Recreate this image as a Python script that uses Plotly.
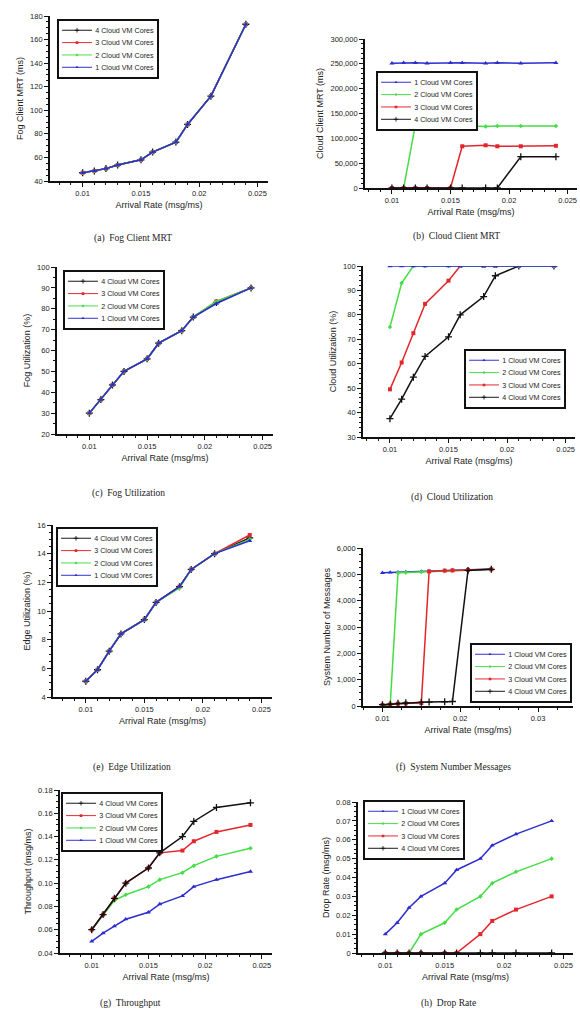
import json
import plotly.graph_objects as go

# ---------------- data ----------------
arrival_rate = [0.010, 0.011, 0.012, 0.013, 0.015, 0.016, 0.018, 0.019, 0.021, 0.024]
core_names = {1: "1 Cloud VM Cores", 2: "2 Cloud VM Cores", 3: "3 Cloud VM Cores", 4: "4 Cloud VM Cores"}

fog_mrt = {
    4: [47, 48.5, 50.5, 53.5, 58, 64.5, 73, 88, 112, 173],
    3: [47, 48.5, 50.5, 53.5, 58, 64.5, 73, 88, 112, 173],
    2: [47, 48.5, 50.5, 53.5, 58, 64.5, 73, 88, 112, 173],
    1: [47, 48.5, 50.5, 53.5, 58, 64.5, 73, 88, 112, 173],
}
cloud_mrt = {
    1: [251000, 252000, 252000, 251000, 252000, 252000, 251000, 252000, 251000, 252000],
    2: [0, 0, 127000, 127000, 127000, 126000, 124000, 125000, 125000, 125000],
    3: [0, 0, 0, 0, 0, 84000, 86000, 84000, 84000, 85000],
    4: [0, 0, 0, 0, 0, 0, 0, 0, 63000, 63000],
}
fog_util = {
    4: [30, 36.5, 43.5, 50, 56, 63.5, 69.5, 76, 83, 90],
    3: [30, 36.5, 43.5, 50, 56, 63.5, 69.5, 76, 83.5, 90],
    2: [30, 36.5, 43.5, 50, 56, 63.5, 69.5, 76, 83.5, 90],
    1: [30, 36.5, 43.5, 50, 56, 63.5, 69.5, 76, 82.5, 90],
}
cloud_util = {
    1: [100, 100, 100, 100, 100, 100, 100, 100, 100, 100],
    2: [75, 93, 100, 100, 100, 100, 100, 100, 100, 100],
    3: [49.5, 60.5, 72.5, 84.5, 94, 100, 100, 100, 100, 100],
    4: [37.5, 45.5, 54.5, 63, 71, 80, 87.5, 96, 100, 100],
}
edge_util = {
    4: [5.1, 5.9, 7.2, 8.4, 9.4, 10.6, 11.7, 12.9, 14.0, 15.1],
    3: [5.1, 5.9, 7.2, 8.4, 9.4, 10.6, 11.7, 12.9, 14.0, 15.3],
    2: [5.1, 5.9, 7.2, 8.4, 9.4, 10.6, 11.6, 12.9, 14.0, 15.0],
    1: [5.1, 5.9, 7.2, 8.4, 9.4, 10.6, 11.7, 12.9, 14.0, 14.9],
}
sys_messages = {
    1: [5060, 5070, 5080, 5090, 5110, 5130, 5150, 5160, 5180, 5200],
    2: [30, 40, 5060, 5070, 5090, 5110, 5130, 5140, 5160, 5180],
    3: [40, 60, 90, 100, 110, 5110, 5140, 5150, 5170, 5190],
    4: [50, 70, 100, 120, 140, 150, 160, 170, 5150, 5190],
}
throughput = {
    4: [0.060, 0.073, 0.087, 0.100, 0.113, 0.126, 0.140, 0.153, 0.165, 0.169],
    3: [0.060, 0.073, 0.087, 0.100, 0.113, 0.126, 0.128, 0.136, 0.144, 0.150],
    2: [0.060, 0.073, 0.085, 0.090, 0.097, 0.103, 0.109, 0.115, 0.123, 0.130],
    1: [0.050, 0.057, 0.063, 0.069, 0.075, 0.082, 0.089, 0.097, 0.103, 0.110],
}
drop_rate = {
    1: [0.010, 0.016, 0.024, 0.030, 0.037, 0.044, 0.050, 0.057, 0.063, 0.070],
    2: [0, 0, 0, 0.010, 0.016, 0.023, 0.030, 0.037, 0.043, 0.050],
    3: [0, 0, 0, 0, 0, 0, 0.010, 0.017, 0.023, 0.030],
    4: [0, 0, 0, 0, 0, 0, 0, 0, 0, 0],
}

# ---------------- styles ----------------
W, H = 580, 1015
STYLE = {
    1: dict(color="#2d2dcf", symbol="triangle-up", size=4.5, lw=0),
    2: dict(color="#44dd44", symbol="diamond", size=3.5, lw=0),
    3: dict(color="#e3262b", symbol="square", size=4, lw=0),
    4: dict(color="#111111", symbol="cross-thin-open", size=5, lw=1.3),
}
SANS = "Liberation Sans, Arial, sans-serif"
AX_FONT = dict(family=SANS, size=7.5, color="#222")
TITLE_FONT = dict(family=SANS, size=9, color="#222")
CAP_FONT = dict(family="Liberation Serif, DejaVu Serif, serif", size=9.5, color="#222")
LEG_SCALE = 0.65

panels = [
    dict(d=fog_mrt, yt="Fog Client MRT (ms)", yr=[40, 180], yd=20, ym=5, tf="",
         box=(50, 268, 16, 181), leg=(57, 19), draw=[4, 3, 2, 1], lorder=[4, 3, 2, 1],
         cap="(a)  Fog Client MRT", cx=133, cy=238, xr=[0.0072, 0.0259], xd=0.005, xm=0.001),
    dict(d=cloud_mrt, yt="Cloud Client MRT (ms)", yr=[0, 300000], yd=50000, ym=10000, tf=",",
         box=(365, 577, 39, 188), leg=(376, 71), draw=[1, 2, 3, 4], lorder=[1, 2, 3, 4],
         cap="(b)  Cloud Client MRT", cx=456, cy=237, xr=[0.0077, 0.0258], xd=0.005, xm=0.001),
    dict(d=fog_util, yt="Fog Utilization (%)", yr=[20, 100], yd=10, ym=5, tf="",
         box=(57, 273, 267, 434), leg=(63, 270), draw=[4, 3, 2, 1], lorder=[4, 3, 2, 1],
         cap="(c)  Fog Utilization", cx=128, cy=493, xr=[0.0072, 0.0259], xd=0.005, xm=0.001),
    dict(d=cloud_util, yt="Cloud Utilization (%)", yr=[30, 100], yd=10, ym=2, tf="",
         box=(363, 575, 266, 437), leg=(464, 349), draw=[4, 3, 2, 1], lorder=[1, 2, 3, 4],
         cap="(d)  Cloud Utilization", cx=452, cy=497, xr=[0.0077, 0.0258], xd=0.005, xm=0.001),
    dict(d=edge_util, yt="Edge Utilization (%)", yr=[4, 16], yd=2, ym=0.5, tf="",
         box=(53, 272, 525, 697), leg=(56, 527), draw=[4, 3, 2, 1], lorder=[4, 3, 2, 1],
         cap="(e)  Edge Utilization", cx=132, cy=767, xr=[0.0072, 0.0259], xd=0.005, xm=0.001),
    dict(d=sys_messages, yt="System Number of Messages", yr=[0, 6000], yd=1000, ym=250, tf=",",
         box=(363, 573, 548, 706), leg=(470, 643), draw=[1, 2, 3, 4], lorder=[1, 2, 3, 4],
         cap="(f)  System Number Messages", cx=453, cy=767, xr=[0.0075, 0.0345], xd=0.01, xm=0.0025),
    dict(d=throughput, yt="Throughput (msg/ms)", yr=[0.04, 0.18], yd=0.02, ym=0.005, tf=".2f",
         box=(60, 272, 790, 953), leg=(61, 792), draw=[1, 2, 3, 4], lorder=[4, 3, 2, 1],
         cap="(g)  Throughput", cx=130, cy=1003, xr=[0.0072, 0.0259], xd=0.005, xm=0.001),
    dict(d=drop_rate, yt="Drop Rate (msg/ms)", yr=[0, 0.08], yd=0.01, ym=0.0025, tf="",
         box=(358, 573, 802, 953), leg=(363, 800), draw=[1, 2, 3, 4], lorder=[1, 2, 3, 4],
         cap="(h)  Drop Rate", cx=448, cy=1003, xr=[0.0077, 0.0258], xd=0.005, xm=0.001),
]

fig = go.Figure()
layout = dict(width=W, height=H, margin=dict(l=0, r=0, t=0, b=0, autoexpand=False),
              paper_bgcolor="white", plot_bgcolor="white", showlegend=True)
annotations = []
legend_px = {}

for i, p in enumerate(panels):
    n = i + 1
    xa = "x" if n == 1 else f"x{n}"
    ya = "y" if n == 1 else f"y{n}"
    lg = "legend" if n == 1 else f"legend{n}"
    L, R, T, B = p["box"]
    for c in p["draw"]:
        s = STYLE[c]
        fig.add_trace(go.Scatter(
            x=arrival_rate, y=p["d"][c], mode="lines+markers", name=core_names[c],
            xaxis=xa, yaxis=ya, legend=lg, legendrank=p["lorder"].index(c) + 1,
            line=dict(color=s["color"], width=1.5),
            marker=dict(symbol=s["symbol"], size=s["size"], color=s["color"],
                        line=dict(width=s["lw"], color=s["color"])),
        ))
    common = dict(showline=True, linecolor="#111", linewidth=1.8, ticks="outside",
                  ticklen=4, tickwidth=1.3, tickcolor="#111", showgrid=False, zeroline=False,
                  tickfont=AX_FONT, mirror=False)
    layout["xaxis" if n == 1 else f"xaxis{n}"] = dict(
        common, domain=[L / W, R / W], anchor=ya, range=p["xr"], dtick=p["xd"], tick0=0,
        minor=dict(dtick=p["xm"], ticklen=2.5, tickwidth=1.1, tickcolor="#111", ticks="outside"),
        title=dict(text="Arrival Rate (msg/ms)", font=TITLE_FONT, standoff=5),
    )
    layout["yaxis" if n == 1 else f"yaxis{n}"] = dict(
        common, domain=[1 - B / H, 1 - T / H], anchor=xa, range=p["yr"], dtick=p["yd"],
        tick0=0, tickformat=p["tf"],
        minor=dict(dtick=p["ym"], ticklen=2.5, tickwidth=1.1, tickcolor="#111", ticks="outside"),
        title=dict(text=p["yt"], font=TITLE_FONT, standoff=5),
    )
    lx, ly = p["leg"]
    legend_px[lg] = [lx, ly]
    layout[lg] = dict(x=lx / W, y=1 - ly / H, xanchor="left", yanchor="top",
                      xref="paper", yref="paper",
                      bordercolor="#111", borderwidth=2.8, bgcolor="white",
                      font=dict(family=SANS, size=11, color="#222"),
                      itemwidth=46, tracegroupgap=0, traceorder="normal")
    annotations.append(dict(text=p["cap"], x=p["cx"] / W, y=1 - p["cy"] / H,
                            xref="paper", yref="paper", showarrow=False,
                            xanchor="center", yanchor="middle", font=CAP_FONT))

layout["annotations"] = annotations
fig.update_layout(**layout)

# remove default page margin and draw the legends at the compact size of the original
post = """
document.body.style.margin = '0';
var gd = document.getElementById('{plot_id}');
var LEG = %s;
function compactLegends() {
  gd.querySelectorAll('.infolayer > g').forEach(function (g) {
    var c = g.getAttribute('class') || '';
    if (LEG[c]) {
      g.setAttribute('transform', 'translate(' + LEG[c][0] + ',' + LEG[c][1] + ') scale(%s)');
    }
  });
}
compactLegends();
gd.on('plotly_afterplot', compactLegends);
""" % (json.dumps(legend_px), LEG_SCALE)
fig.write_html("out.html", post_script=post, config={"displayModeBar": False})
